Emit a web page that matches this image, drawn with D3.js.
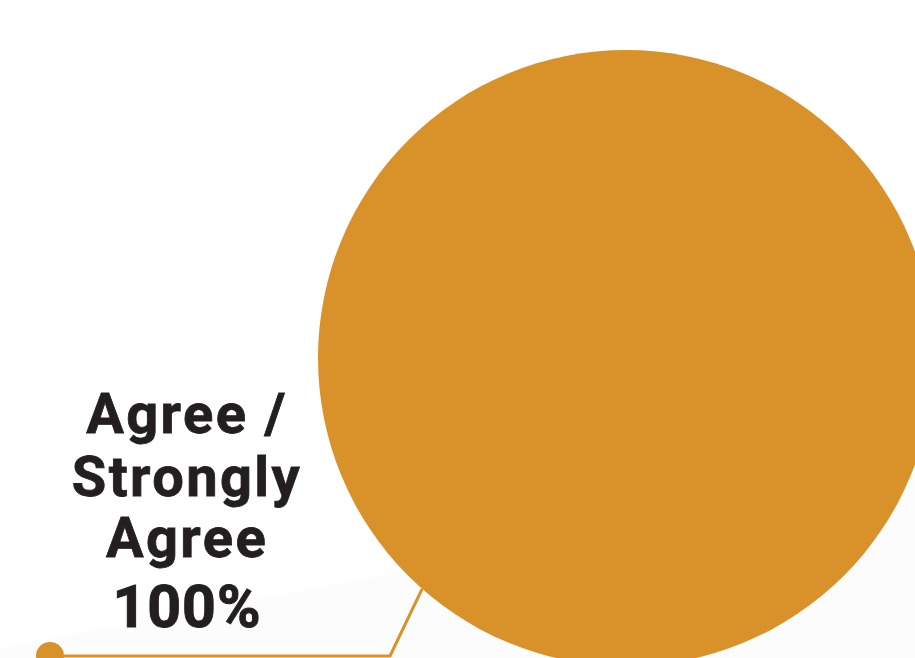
<!DOCTYPE html>
<html>
<head>
<meta charset="utf-8">
<script src="https://cdn.jsdelivr.net/npm/d3@7"></script>
<style>
  html, body { margin: 0; padding: 0; background: #ffffff; }
  svg { display: block; }
</style>
</head>
<body>
<svg id="chart" width="915" height="658"></svg>
<script>
// Survey response shares
const categories = ["Agree / Strongly Agree"];
const values = [100];
const labelLines = ["Agree /", "Strongly", "Agree"];
const colors = ["#d9912a"];

const W = 915, H = 658;
const svg = d3.select("#chart");

// faint diagonal shading behind the lower left corner
svg.append("path")
  .attr("d", "M0,648 L915,474 L915,658 L0,658 Z")
  .attr("fill", "#fcfcfc");

// pie
const cx = 626, cy = 358, R = 308;
const pie = d3.pie().sort(null).value(d => d);
const arc = d3.arc().innerRadius(0).outerRadius(R);
const arcs = pie(values);

const g = svg.append("g").attr("transform", `translate(${cx},${cy})`);
g.selectAll("path.slice")
  .data(arcs)
  .join("path")
  .attr("class", "slice")
  .attr("d", arc)
  .attr("fill", (d, i) => colors[i]);

// leader line from the slice edge to the label
const leaderAngle = 3.865;
const startPt = [cx + R * Math.sin(leaderAngle), cy - R * Math.cos(leaderAngle)];
const elbow = [390, 656];
const endPt = [50, 656];

svg.append("path")
  .attr("d", d3.line()([startPt, elbow, endPt]))
  .attr("fill", "none")
  .attr("stroke", colors[0])
  .attr("stroke-width", 3);

svg.append("circle")
  .attr("cx", endPt[0]).attr("cy", endPt[1]).attr("r", 14)
  .attr("fill", colors[0]);

// label text
const label = svg.append("g")
  .attr("font-family", "Roboto, 'Noto Sans', sans-serif")
  .attr("font-weight", 700)
  .attr("fill", "#231f20")
  .attr("text-anchor", "middle");

const tx = 187;
const baselines = [433, 496, 557];
labelLines.forEach((t, i) => {
  label.append("text")
    .attr("x", tx).attr("y", baselines[i])
    .attr("font-size", 56)
    .attr("letter-spacing", 2.4)
    .attr("stroke", "#231f20")
    .attr("stroke-width", 0.8)
    .text(t);
});
label.append("text")
  .attr("x", tx).attr("y", 627)
  .attr("font-size", 59)
  .attr("letter-spacing", 1)
  .attr("stroke", "#231f20")
  .attr("stroke-width", 1)
  .text(`${values[0]}%`);
</script>
</body>
</html>
